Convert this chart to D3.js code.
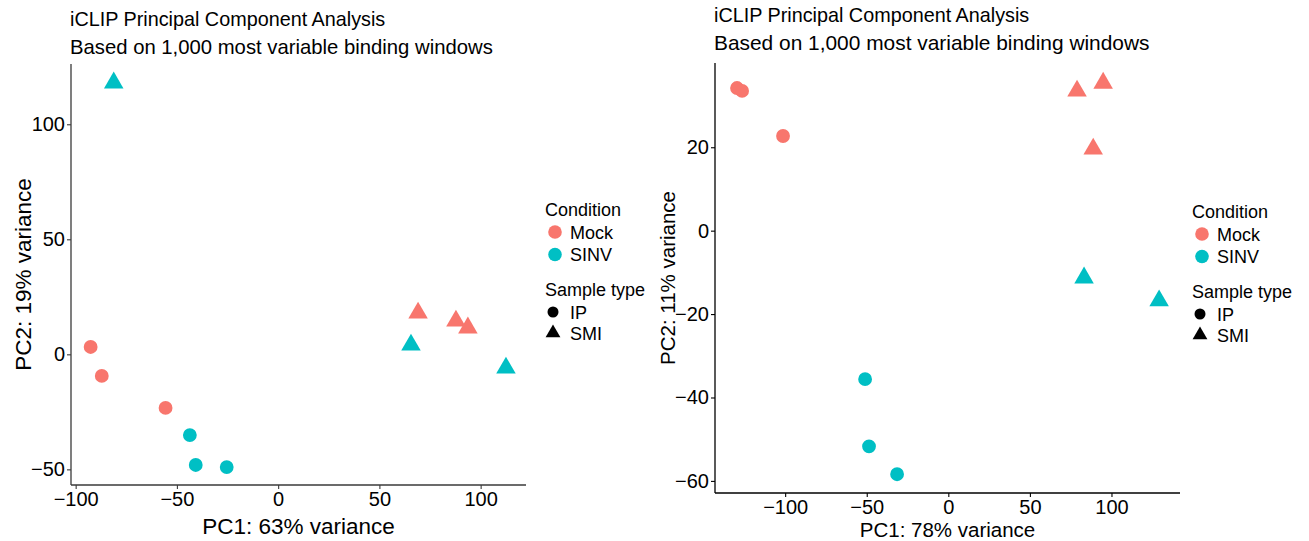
<!DOCTYPE html>
<html>
<head>
<meta charset="utf-8">
<script src="https://cdn.jsdelivr.net/npm/d3@7"></script>
<style>
  body { margin: 0; background: #fff; }
  svg text { font-family: "Liberation Sans", Arial, sans-serif; fill: #000; }
</style>
</head>
<body>
<svg id="chart" width="1309" height="541"></svg>
<script>
const conditions = ["Mock", "SINV"];
const sampleTypes = ["IP", "SMI"];
const conditionColors = ["#F8766D", "#00BFC4"];

// left panel samples
const leftPC1 = [-92.6, -87.1, -55.6, -43.6, -40.7, -25.4, 69.1, 87.8, 93.7, -81.2, 65.6, 112.5];
const leftPC2 = [3.2, -9.4, -23.3, -35.1, -48.1, -49.0, 18.0, 14.5, 11.5, 118.0, 4.1, -5.9];
const leftCondition = ["Mock", "Mock", "Mock", "SINV", "SINV", "SINV", "Mock", "Mock", "Mock", "SINV", "SINV", "SINV"];
const leftType = ["IP", "IP", "IP", "IP", "IP", "IP", "SMI", "SMI", "SMI", "SMI", "SMI", "SMI"];
const leftXTicks = [-100, -50, 0, 50, 100];
const leftYTicks = [-50, 0, 50, 100];

// right panel samples
const rightPC1 = [-129.5, -126.4, -101.3, -51.0, -48.6, -31.4, 78.9, 94.9, 88.8, 83.2, 129.2];
const rightPC2 = [34.2, 33.5, 22.7, -35.6, -51.7, -58.4, 33.5, 35.4, 19.6, -11.3, -16.8];
const rightCondition = ["Mock", "Mock", "Mock", "SINV", "SINV", "SINV", "Mock", "Mock", "Mock", "SINV", "SINV"];
const rightType = ["IP", "IP", "IP", "IP", "IP", "IP", "SMI", "SMI", "SMI", "SMI", "SMI"];
const rightXTicks = [-100, -50, 0, 50, 100];
const rightYTicks = [-60, -40, -20, 0, 20];

const titleText = "iCLIP Principal Component Analysis";
const subtitleText = "Based on 1,000 most variable binding windows";

const svg = d3.select("#chart");
const color = d3.scaleOrdinal().domain(conditions).range(conditionColors);
const shape = d3.scaleOrdinal().domain(sampleTypes).range([d3.symbolCircle, d3.symbolTriangle]);

function minus(d) {
  return d < 0 ? "\u2212" + Math.abs(d) : d;
}

function drawPanel(opt) {
  let g = svg.append("g");

  let x = d3.scaleLinear().domain(opt.xDomain).range([opt.left, opt.right]);
  let y = d3.scaleLinear().domain(opt.yDomain).range([opt.bottom, opt.top]);

  g.append("text")
    .attr("x", opt.titleX)
    .attr("y", opt.titleY)
    .attr("font-size", "19.8px")
    .text(titleText);
  g.append("text")
    .attr("x", opt.titleX)
    .attr("y", opt.titleY + 28)
    .attr("font-size", opt.subSize)
    .text(subtitleText);

  let xAxis = g.append("g")
    .attr("transform", `translate(0,${opt.bottom})`)
    .call(d3.axisBottom(x).tickValues(opt.xTicks).tickSize(4).tickPadding(3).tickFormat(minus));
  let yAxis = g.append("g")
    .attr("transform", `translate(${opt.left},0)`)
    .call(d3.axisLeft(y).tickValues(opt.yTicks).tickSize(4).tickPadding(2).tickFormat(minus));

  [xAxis, yAxis].forEach(a => {
    a.select(".domain").attr("stroke", opt.axisColor).attr("stroke-width", 1.3);
    a.selectAll(".tick line").attr("stroke", opt.axisColor).attr("stroke-width", 1.1);
    a.selectAll(".tick text")
      .attr("font-family", "Liberation Sans, Arial, sans-serif")
      .attr("font-size", opt.tickSize)
      .attr("fill", "#000");
  });
  // axis lines span exactly the panel
  xAxis.select(".domain").attr("d", `M${opt.left},0H${opt.right}`);
  yAxis.select(".domain").attr("d", `M0,${opt.bottom}V${opt.top}`);

  g.append("text")
    .attr("x", (opt.left + opt.right) / 2)
    .attr("y", opt.bottom + opt.xLabelGap)
    .attr("text-anchor", "middle")
    .attr("font-size", opt.labelSize)
    .text(opt.xLabel);
  g.append("text")
    .attr("transform", `translate(${opt.left - 40},${(opt.top + opt.bottom) / 2}) rotate(-90)`)
    .attr("text-anchor", "middle")
    .attr("font-size", opt.labelSize)
    .text(opt.yLabel);

  let idx = d3.range(opt.pc1.length);
  g.append("g").selectAll("path")
    .data(idx)
    .enter().append("path")
    .attr("transform", i => `translate(${x(opt.pc1[i])},${y(opt.pc2[i])})`)
    .attr("d", i => d3.symbol().type(shape(opt.type[i])).size(opt.type[i] === "IP" ? 150 : 165)())
    .attr("fill", i => color(opt.cond[i]));

  // legend
  let lg = g.append("g").attr("transform", `translate(${opt.legendX},${opt.legendY})`);
  lg.append("text").attr("x", 0).attr("y", 0).attr("font-size", "18px").text("Condition");
  conditions.forEach((c, i) => {
    lg.append("circle")
      .attr("cx", 10).attr("cy", 16 + i * 22.5).attr("r", 6.8)
      .attr("fill", color(c));
    lg.append("text")
      .attr("x", 25).attr("y", 22.5 + i * 22.5)
      .attr("font-size", "18px").text(c);
  });
  lg.append("text").attr("x", 0).attr("y", 80).attr("font-size", "18px").text("Sample type");
  sampleTypes.forEach((s, i) => {
    lg.append("path")
      .attr("transform", `translate(8,${96 + i * 21})`)
      .attr("d", d3.symbol().type(shape(s)).size(95)())
      .attr("fill", "#000");
    lg.append("text")
      .attr("x", 25).attr("y", 102.5 + i * 21)
      .attr("font-size", "18px").text(s);
  });
}

drawPanel({
  left: 71, right: 526, top: 64, bottom: 485,
  xDomain: [-102.3, 122.4], yDomain: [-56.8, 126.2],
  xTicks: leftXTicks, yTicks: leftYTicks,
  pc1: leftPC1, pc2: leftPC2, cond: leftCondition, type: leftType,
  xLabel: "PC1: 63% variance", yLabel: "PC2: 19% variance",
  titleX: 70, titleY: 26, subSize: "20.3px",
  tickSize: "20px", labelSize: "22.5px", xLabelGap: 49,
  legendX: 545, legendY: 216,
  axisColor: "#3a3a3a"
});

drawPanel({
  left: 715, right: 1180, top: 63, bottom: 493,
  xDomain: [-143, 142], yDomain: [-62.9, 40.2],
  xTicks: rightXTicks, yTicks: rightYTicks,
  pc1: rightPC1, pc2: rightPC2, cond: rightCondition, type: rightType,
  xLabel: "PC1: 78% variance", yLabel: "PC2: 11% variance",
  titleX: 714, titleY: 22, subSize: "20.9px",
  tickSize: "20px", labelSize: "20.5px", xLabelGap: 44,
  legendX: 1192, legendY: 218,
  axisColor: "#000"
});
</script>
</body>
</html>
